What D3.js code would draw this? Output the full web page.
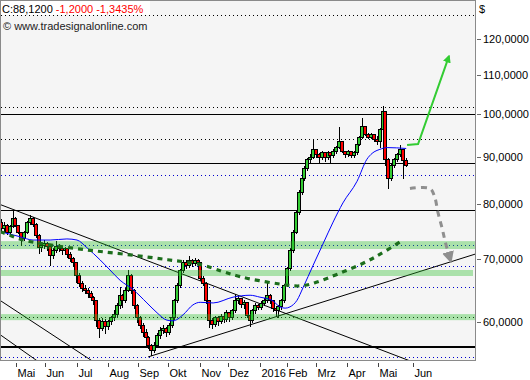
<!DOCTYPE html>
<html><head><meta charset="utf-8">
<script src="https://cdn.jsdelivr.net/npm/d3@7"></script>
<style>body{margin:0;background:#fff}svg{display:block;font-family:"Liberation Sans",Arial,sans-serif}</style>
</head><body><svg id="c" width="530" height="380"></svg>
<script>
// ---------- data ----------
const open=[76.6,75.5,76.1,74.8,75.9,77.4,76.1,74.8,73.7,74.8,76.6,77.4,76.3,74.2,72.0,72.4,72.8,72.2,70.6,71.5,72.2,71.8,71.5,71.8,70.8,70.1,69.4,67.3,66.0,65.2,64.9,64.4,63.7,63.2,60.2,59.1,60.1,59.4,60.1,60.6,61.1,62.5,64.0,63.2,64.9,67.3,64.9,62.5,60.6,59.5,58.5,57.7,56.7,56.0,56.7,58.1,58.8,59.1,58.5,59.5,60.6,63.2,65.7,68.1,69.4,68.9,69.8,69.3,69.8,69.4,66.8,66.0,63.2,60.2,59.6,60.6,60.1,60.8,60.4,61.4,60.6,61.7,63.2,63.5,62.6,62.9,61.0,60.2,61.7,62.5,62.2,62.8,63.2,64.0,63.2,62.0,61.7,62.3,63.2,65.7,68.4,71.5,74.8,78.5,82.4,85.4,87.5,89.4,90.0,91.6,90.5,89.8,90.9,89.8,90.9,90.3,91.2,92.1,93.5,91.2,90.5,91.2,90.3,90.9,92.8,94.5,96.9,95.2,94.5,95.2,94.0,93.4,96.4,100.6,89.4,85.4,88.2,89.4,90.5,91.6,89.3];
const high=[77.4,76.8,76.4,76.3,78.9,77.8,76.3,75.0,75.1,77.0,78.1,77.7,76.6,74.5,72.9,73.4,73.1,72.4,72.0,73.3,72.8,72.4,72.3,72.0,71.3,70.5,69.7,67.8,66.4,65.8,65.3,64.8,64.0,63.4,60.7,60.6,60.5,60.4,61.0,61.8,63.0,65.5,64.4,65.3,68.2,67.6,65.1,62.8,61.0,60.0,59.0,58.1,56.9,57.2,58.5,59.3,59.6,59.4,60.0,61.0,63.6,66.1,68.5,70.0,69.9,70.6,70.2,70.3,70.2,69.6,67.2,66.2,63.4,60.6,61.0,60.9,61.3,61.1,61.9,61.6,62.1,64.4,64.0,63.8,63.4,63.1,61.3,62.1,62.9,62.8,63.2,63.7,66.1,64.3,63.4,62.3,62.7,63.6,66.0,68.8,72.0,75.3,79.0,83.0,86.0,88.1,89.9,90.8,94.0,91.9,90.9,91.5,91.2,91.4,91.2,91.8,92.6,96.9,93.8,91.5,91.6,91.4,91.4,93.2,95.0,99.1,97.2,95.6,95.6,95.4,95.0,96.8,102.1,100.9,89.8,88.8,89.9,90.9,92.8,91.9,89.8];
const low=[75.0,75.0,74.4,74.5,75.6,75.8,74.5,72.4,73.3,74.6,76.2,75.9,73.9,71.0,71.3,71.9,71.6,68.9,70.2,71.2,71.3,70.9,71.0,70.3,69.6,68.8,66.1,65.5,64.6,64.3,63.8,63.3,62.6,59.4,57.8,58.7,58.4,58.9,59.6,60.2,60.8,62.1,62.2,62.9,64.6,64.4,62.0,60.0,59.0,57.9,57.1,56.2,55.2,55.6,56.4,57.6,58.3,57.9,58.2,59.2,60.3,62.9,65.3,67.8,68.4,68.6,68.8,68.9,68.9,66.4,65.6,62.8,59.2,59.1,59.3,59.5,59.8,59.9,60.1,60.1,60.3,61.4,62.8,62.2,62.1,60.6,59.4,59.9,61.3,61.8,61.9,62.5,62.9,62.8,61.6,60.8,60.7,61.9,62.9,65.4,68.1,71.2,74.5,78.2,82.0,85.0,87.1,88.7,89.6,89.8,88.7,89.4,89.1,89.5,88.7,89.9,90.8,91.8,90.9,89.9,90.1,89.8,89.9,90.6,92.5,94.2,94.8,94.1,94.2,93.6,92.8,92.1,96.0,88.2,83.4,85.0,87.7,89.0,90.1,85.4,88.0];
const close=[75.5,76.1,74.8,75.9,77.4,76.1,74.8,73.7,74.8,76.6,77.4,76.3,74.2,72.0,72.4,72.8,72.2,70.6,71.5,72.2,71.8,71.5,71.8,70.8,70.1,69.4,67.3,66.0,65.2,64.9,64.4,63.7,63.2,60.2,59.1,60.1,59.4,60.1,60.6,61.1,62.5,64.0,63.2,64.9,67.3,64.9,62.5,60.6,59.5,58.5,57.7,56.7,56.0,56.7,58.1,58.8,59.1,58.5,59.5,60.6,63.2,65.7,68.1,69.4,68.9,69.8,69.3,69.8,69.4,66.8,66.0,63.2,60.2,59.6,60.6,60.1,60.8,60.4,61.4,60.6,61.7,63.2,63.5,62.6,62.9,61.0,60.2,61.7,62.5,62.2,62.8,63.2,64.0,63.2,62.0,61.7,62.3,63.2,65.7,68.4,71.5,74.8,78.5,82.4,85.4,87.5,89.4,90.0,91.6,90.5,89.8,90.9,89.8,90.9,90.3,91.2,92.1,93.5,91.2,90.5,91.2,90.3,90.9,92.8,94.5,96.9,95.2,94.5,95.2,94.0,93.4,96.4,100.6,89.4,85.4,88.2,89.4,90.5,91.6,89.3,88.12];

// moving average (bar index, value)
const maIdx=[1.4,6.6,11.1,17,22.8,26.3,29.8,34.3,37.7,41.2,45.7,50.5,54,57.4,59.5,63,66.4,68.9,73.4,80.3,86.2,89.6,93.8,96.5,98.3,100,102.4,104.5,108,111.4,114.9,118.3,123.2,126.6,128.4,131.1,133.6,140.2];
const maVal=[74.6,73.9,73.3,73.3,73.5,73.3,71.9,69.8,68.1,66.4,64.9,62.8,61.3,60.2,60.1,61.0,62.5,62.9,62.8,63.7,64.0,63.7,63.2,62.2,62.0,62.2,63.2,65.2,68.9,72.6,76.6,80.3,84.7,89.4,90.7,91.6,92.0,91.8];

// rounded-bottom (dashed green)
const arcIdx=[-0.3,3.1,6.6,17,29.8,41.2,54,59.5,68.9,76.8,80.3,85,92,97.7,103.5,109,114.9,120,125.3,129.5,133.6,139.1];
const arcVal=[74.8,74.2,73.3,72.4,71.5,70.9,70.1,69.7,69.2,67.8,67.3,66.7,66.1,65.7,65.3,66.0,67.1,68.1,69.2,70.3,71.5,73.3];

// month ticks (bar index)
const monthLabels=["Mai","Jun","Jul","Aug","Sep","Okt","Nov","Dez","2016","Feb","Mrz","Apr","Mai","Jun"];
const monthIdx=[5.2,15.2,26.2,36.9,47.5,57.9,68.9,78.7,89.6,99.1,109.0,119.8,130.6,142.5];
const yTicks=[60,70,80,90,100,110,120];

const solidLevels=[100,88.5,78.9];
const thickLevels=[56.3];
const blackDotLevels=[127.4,101.6,93.9,60.6];
const blueDotLevels=[86.1,72.4,68.7,65.3,55.0];
const zoneLow=[71.7,67.1,60.2];
const zoneHigh=[73.1,68.1,61.1];
const zoneEnd=[164,163.3,164];

const trendStart=[[-0.35,80.0],[50.9,55.0],[-0.35,63.2],[-0.35,58.1]];
const trendEnd=[[141.6,54.45],[164,70.8],[31.6,54.45],[12.6,54.45]];

const upArrow=[[140.5,92.6],[144.3,92.8],[155.0,115.2]];
const downArrow=[[141.5,83.2],[148.4,83.2],[150.0,81.6],[151.2,78.4],[152.6,75.5],[153.8,72.8],[155.6,69.6]];

const headerClose="C:88,1200 ";
const headerChange="-1,2000 -1,3435%";
const copyright="\u00A9 www.tradesignalonline.com";

// ---------- chart ----------
const svg=d3.select("#c");
const L=1,R=475,T=1,B=361;
const x=d3.scaleLinear().domain([0,164]).range([L,R]);
const y=d3.scaleLog().domain([54.45,131.9]).range([B,T]);
const loc=d3.formatLocale({decimal:",",thousands:".",grouping:[3],currency:["","$"]});
const fmt=loc.format(".4f");

svg.append("rect").attr("x",0).attr("y",0).attr("width",476).attr("height",361).attr("fill","#f5f5f5");
const defs=svg.append("defs");
defs.append("clipPath").attr("id","clip").append("rect").attr("x",L).attr("y",T).attr("width",R-L).attr("height",B-T);
function marker(id,color){
  defs.append("marker").attr("id",id).attr("viewBox","0 0 10 10").attr("refX",8).attr("refY",5)
   .attr("markerWidth",4).attr("markerHeight",4).attr("orient","auto")
   .append("path").attr("d","M0,0L10,5L0,10z").attr("fill",color);
}
marker("mg","#33cc33");marker("mgr","#8f8f8f");

const g=svg.append("g").attr("clip-path","url(#clip)");
const py=v=>Math.round(y(v))+0.5;

// levels
function hline(levels,color,w,dash){
  g.append("g").selectAll("line").data(levels).join("line")
   .attr("x1",L).attr("x2",R).attr("y1",py).attr("y2",py)
   .attr("stroke",color).attr("stroke-width",w).attr("stroke-dasharray",dash||null)
   .attr("shape-rendering","crispEdges");
}
hline(blackDotLevels,"#000",1,"1,3");
hline(blueDotLevels,"#0000cc",1,"1,3");
hline(solidLevels,"#000",1);
g.append("g").selectAll("line").data(thickLevels).join("line")
 .attr("x1",L).attr("x2",R).attr("y1",d=>Math.round(y(d))).attr("y2",d=>Math.round(y(d)))
 .attr("stroke","#000").attr("stroke-width",2.5).attr("shape-rendering","crispEdges");

// trend lines
g.append("g").selectAll("line").data(trendStart).join("line")
 .attr("x1",d=>x(d[0])).attr("y1",d=>y(d[1]))
 .attr("x2",(d,i)=>x(trendEnd[i][0])).attr("y2",(d,i)=>y(trendEnd[i][1]))
 .attr("stroke","#000").attr("stroke-width",1);

// candles
const cg=g.append("g").attr("shape-rendering","crispEdges");
close.forEach((c,i)=>{
  const o=open[i];
  const cx=Math.round(x(i));
  cg.append("line").attr("x1",cx+0.5).attr("x2",cx+0.5).attr("y1",py(high[i])).attr("y2",py(low[i])).attr("stroke","#000");
  const top=py(Math.max(o,c)), bot=py(Math.min(o,c));
  cg.append("rect").attr("x",cx-1.5).attr("y",top).attr("width",3).attr("height",Math.max(1,bot-top))
    .attr("fill",c>=o?"#33cc33":"#ff0000").attr("stroke","#000");
});

// zones (translucent)
g.append("g").selectAll("rect").data(zoneLow).join("rect")
 .attr("x",L).attr("width",(d,i)=>x(zoneEnd[i])-L).attr("y",(d,i)=>y(zoneHigh[i])).attr("height",(d,i)=>y(d)-y(zoneHigh[i]))
 .attr("fill","rgb(40,190,40)").attr("opacity",0.37);

// moving average
g.append("path").datum(maIdx.map((d,i)=>[d,maVal[i]]))
 .attr("d",d3.line().x(d=>x(d[0])).y(d=>y(d[1])).curve(d3.curveMonotoneX))
 .attr("fill","none").attr("stroke","#0000ff").attr("stroke-width",1);

// rounded bottom
g.append("path").datum(arcIdx.map((d,i)=>[d,arcVal[i]]))
 .attr("d",d3.line().x(d=>x(d[0])).y(d=>y(d[1])).curve(d3.curveBasis))
 .attr("fill","none").attr("stroke","#1c6e1c").attr("stroke-width",3.2).attr("stroke-dasharray","5,5");

// arrows
svg.append("path").datum(upArrow)
 .attr("d",d3.line().x(d=>x(d[0])).y(d=>y(d[1])))
 .attr("fill","none").attr("stroke","#33cc33").attr("stroke-width",2).attr("marker-end","url(#mg)");
svg.append("path").datum(downArrow)
 .attr("d",d3.line().x(d=>x(d[0])).y(d=>y(d[1])).curve(d3.curveCatmullRom))
 .attr("fill","none").attr("stroke","#8f8f8f").attr("stroke-width",3).attr("stroke-dasharray","6,5").attr("marker-end","url(#mgr)");

// header
svg.append("rect").attr("x",0).attr("y",0).attr("width",150).attr("height",15).attr("fill","#fff");
const ht=svg.append("text").attr("x",2).attr("y",12.5).attr("font-size",11);
ht.append("tspan").attr("fill","#000").text(headerClose);
ht.append("tspan").attr("fill","#ff0000").text(headerChange);
svg.append("text").attr("x",3).attr("y",29.5).attr("font-size",11).attr("fill","#222").text(copyright);

// frame
svg.append("rect").attr("x",0.5).attr("y",0.5).attr("width",475).attr("height",360)
 .attr("fill","none").attr("stroke","#8a8a8a").attr("shape-rendering","crispEdges");

// right axis
const ra=svg.append("g");
ra.selectAll("line").data(yTicks).join("line").attr("x1",477).attr("x2",481).attr("y1",py).attr("y2",py)
 .attr("stroke","#666").attr("shape-rendering","crispEdges");
ra.selectAll("text").data(yTicks).join("text").attr("x",483).attr("y",d=>y(d)+4).attr("font-size",11).attr("fill","#000").text(fmt);
svg.append("text").attr("x",479).attr("y",13).attr("font-size",11).attr("fill","#000").text("$");

// bottom axis
const ba=svg.append("g");
ba.selectAll("line").data(monthIdx).join("line")
 .attr("x1",d=>Math.round(x(d))+0.5).attr("x2",d=>Math.round(x(d))+0.5).attr("y1",363).attr("y2",367)
 .attr("stroke","#444").attr("shape-rendering","crispEdges");
ba.selectAll("text").data(monthIdx).join("text")
 .attr("x",d=>Math.round(x(d))+1.5).attr("y",377).attr("font-size",11).attr("fill","#000")
 .text((d,i)=>monthLabels[i]);
</script></body></html>
